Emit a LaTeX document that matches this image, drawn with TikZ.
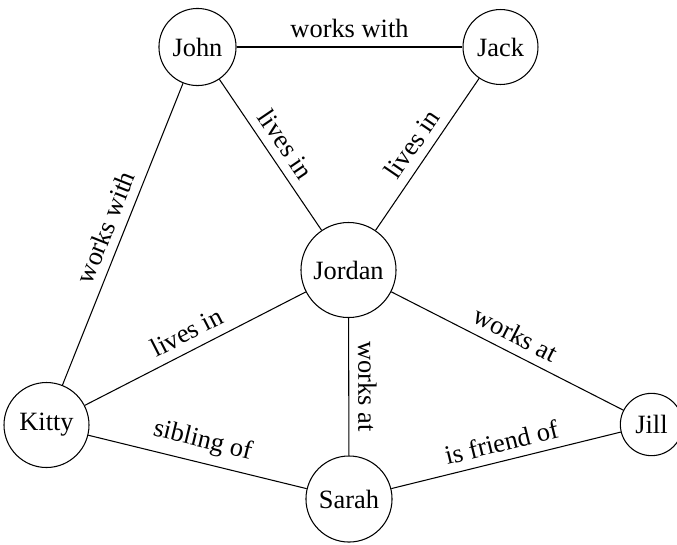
\documentclass[tikz,border=0pt]{standalone}
\usepackage{fontspec}
\setmainfont{Liberation Serif}
\begin{document}
\begin{tikzpicture}[x=0.3788pt,y=-0.3788pt,
  person/.style={draw,circle,inner sep=0pt,font=\fontsize{10}{12}\selectfont},
  lbl/.style={midway,sloped,above,font=\fontsize{10}{12}\selectfont},
  link/.style={draw}]
\useasboundingbox (0,0) rectangle (677,544);
\node[person,minimum size=29.2pt] (john) at (197.5,47) {John};
\node[person,minimum size=28.4pt] (jack) at (500.5,47) {Jack};
\node[person,minimum size=36.0pt] (jordan) at (348.5,270) {Jordan};
\node[person,minimum size=32.2pt] (kitty) at (46.5,425) {Kitty};
\node[person,minimum size=23.6pt] (jill) at (651.5,424.5) {Jill};
\node[person,minimum size=32.6pt] (sarah) at (349,499) {Sarah};
\draw[link] (john) -- node[lbl]{works with} (jack);
\draw[link] (john) -- node[lbl]{lives in} (jordan);
\draw[link] (jordan) -- node[lbl]{lives in} (jack);
\draw[link] (kitty) -- node[lbl]{works with} (john);
\draw[link] (kitty) -- node[lbl]{lives in} (jordan);
\draw[link] (jordan) -- node[lbl]{works at} (sarah);
\draw[link] (jordan) -- node[lbl]{works at} (jill);
\draw[link] (kitty) -- node[lbl]{sibling of} (sarah);
\draw[link] (sarah) -- node[lbl]{is friend of} (jill);
\end{tikzpicture}
\end{document}
